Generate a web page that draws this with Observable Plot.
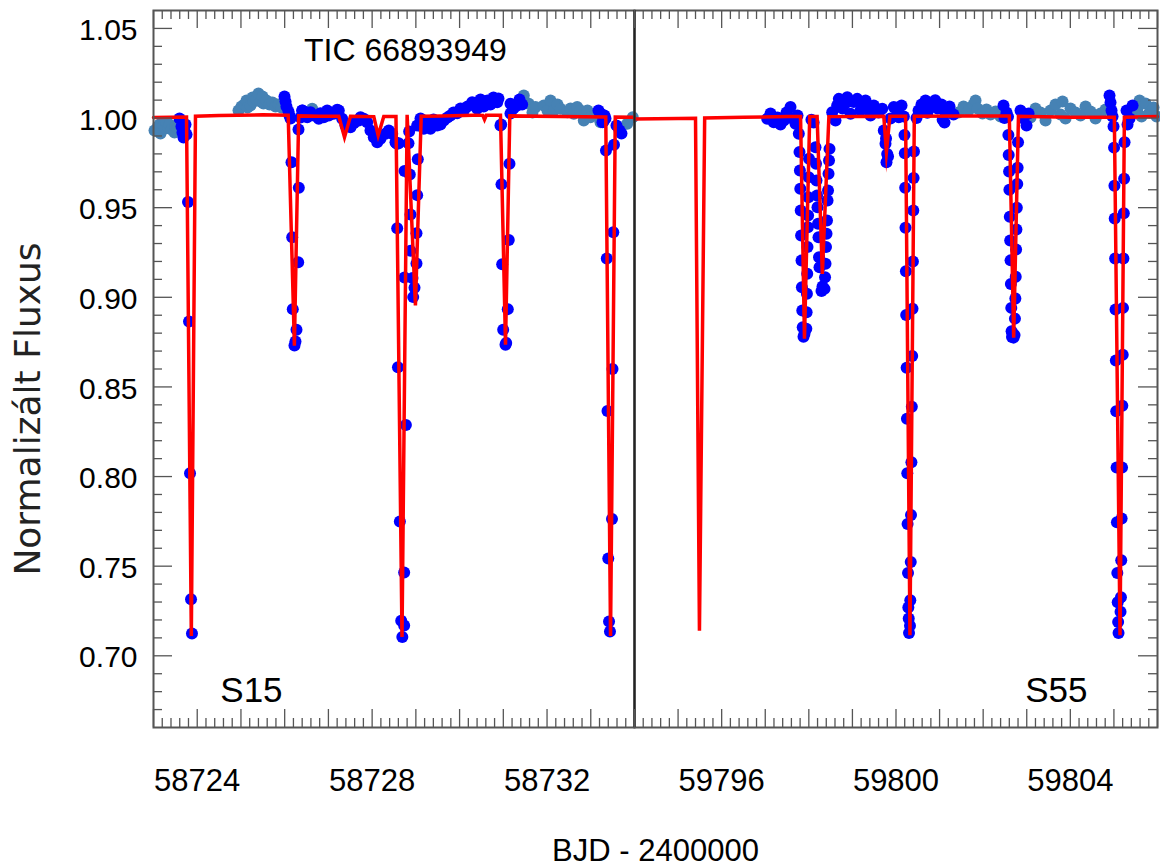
<!DOCTYPE html>
<html>
<head>
<meta charset="utf-8">
<script src="https://cdn.jsdelivr.net/npm/d3@7"></script>
<script src="https://cdn.jsdelivr.net/npm/@observablehq/plot@0.6"></script>
<style>
  html, body { margin: 0; padding: 0; background: #fff; }
  #wrap { position: relative; width: 1160px; height: 866px; }
  #wrap svg { position: absolute; left: 0; top: 0; }
</style>
</head>
<body>
<div id="wrap"></div>
<script>
// ---------------- DATA ----------------
// Sector 15 – points not used in fit (steel blue)
const s15SteelT = [58723.023,58723.091,58723.137,58723.160,58723.229,58723.274,58723.297,58723.343,58723.366,58723.412,58723.480,58723.503,58723.549,
  58724.944,58725.012,58725.081,58725.127,58725.150,58725.218,58725.264,58725.287,58725.355,58725.401,58725.447,58725.493,58725.515,58725.584,58725.653,58725.721,58725.790,58725.859,58725.927,
  58726.629,
  58731.468,58731.583,58731.667,58731.736,58731.926,58732.010,58732.079,58732.154,58732.239,58732.307,58732.461,58732.536,58732.612,58732.689,58732.765,58732.840,58732.924,58732.993,58733.108,58733.222,58733.833,58733.960];
const s15SteelF = [0.9931,0.9947,0.9964,0.9914,0.9958,0.9942,0.9975,0.9947,0.9964,0.9936,0.9919,0.9953,0.9942,
  1.0042,1.0064,1.0076,1.0098,1.0059,1.0070,1.0115,1.0092,1.0103,1.0137,1.0092,1.0120,1.0081,1.0098,1.0076,1.0087,1.0064,1.0076,1.0059,
  1.0052,
  1.0126,1.0080,1.0031,1.0061,1.0070,1.0042,1.0098,1.0042,1.0076,1.0052,1.0033,1.0053,1.0024,1.0061,1.0042,0.9986,1.0042,1.0005,1.0024,0.9977,0.9968,1.0005];

// Sector 15 – fitted points (blue)
const s15BlueT = [58723.595,58723.640,58723.663,58723.686,58723.709,58723.732,58723.755,
  58723.789,58723.812,58723.835,58723.858,58723.880,
  58725.996,58726.019,58726.041,58726.087,58726.110,58726.133,
  58726.156,58726.172,58726.185,58726.224,58726.247,58726.270,58726.309,58726.323,
  58726.316,58726.362,58726.407,58726.476,
  58726.400,58726.515,58726.590,58726.666,58726.780,58726.819,58726.894,58726.972,58727.009,58727.123,58727.201,58727.237,58727.315,58727.391,58727.505,58727.580,58727.695,58727.734,58727.809,58727.887,58727.962,58728.038,58728.116,58728.191,58728.305,58728.381,58728.459,58728.534,58728.573,
  58728.557,58728.607,58728.573,58728.591,58728.634,58728.665,58728.690,58728.732,58728.732,58728.772,58728.740,58728.740,58728.831,58728.847,58728.861,58728.877,58728.877,58728.923,58728.939,58728.969,58729.014,58729.014,58729.030,58729.044,
  58729.030,58729.106,58729.181,58729.266,58729.334,58729.403,58729.488,58729.563,58729.639,58729.723,58729.792,58729.860,58729.945,58730.020,58730.096,58730.180,58730.288,58730.341,58730.402,58730.478,58730.553,58730.638,58730.707,58730.775,58730.860,58730.889,58730.935,
  58730.951,58730.958,58730.974,58730.997,58731.050,58731.066,58731.102,58731.125,58731.141,
  58731.164,58731.164,58731.232,58731.317,58731.370,58731.431,
  58733.176,58733.222,58733.268,58733.291,58733.313,58733.336,
  58733.348,58733.366,58733.382,58733.400,58733.418,58733.439,58733.485,58733.497,58733.515,58733.531,
  58733.588,58733.657,58733.702];
const s15BlueF = [0.9997,0.9953,0.9919,0.9892,0.9931,0.9964,0.9908,
  0.9532,0.8865,0.8018,0.7315,0.7125,
  1.0120,1.0092,1.0064,1.0036,1.0014,0.9997,
  0.9754,0.9335,0.8934,0.8731,0.8753,0.8819,0.9196,0.9611,
  0.9936,1.0003,1.0042,1.0031,
  1.0042,1.0005,1.0033,1.0014,0.9996,1.0027,1.0005,1.0042,1.0014,1.0024,1.0046,1.0042,0.9996,0.9958,0.9949,0.9971,0.9986,1.0005,0.9996,0.9977,0.9931,0.9893,0.9865,0.9884,0.9912,0.9931,0.9912,0.9865,0.9856,
  0.9860,0.9859,0.9385,0.8610,0.7749,0.7195,0.7105,0.7169,0.7465,0.8287,0.9110,0.9704,0.9860,0.9925,0.9685,0.9462,0.9259,0.9107,0.9001,0.9053,0.9189,0.9358,0.9570,0.9770,
  0.9958,0.9997,0.9940,0.9981,0.9940,0.9992,0.9958,0.9964,0.9986,1.0003,1.0014,1.0031,1.0027,1.0053,1.0042,1.0064,1.0088,1.0076,1.0052,1.0103,1.0064,1.0098,1.0076,1.0115,1.0088,1.0109,0.9958,
  0.9964,0.9630,0.9185,0.8819,0.8735,0.8745,0.8934,0.9320,0.9745,
  1.0080,1.0025,1.0053,1.0070,1.0103,1.0076,
  1.0042,1.0025,0.9977,0.9981,1.0014,0.9997,
  0.9819,0.9217,0.8366,0.7543,0.7191,0.7136,0.7763,0.8600,0.9363,0.9851,
  0.9958,0.9931,0.9914];

// Sector 15 – model (red)
const s15ModelT = [58723.000,58723.400,58723.755,58723.865,58723.960,58724.500,58725.500,58726.080,58726.222,58726.320,58726.800,
  58727.237,58727.368,58727.505,58728.038,58728.138,58728.266,58728.545,58728.683,58728.800,58728.990,58729.122,
  58729.600,58730.300,58730.530,58730.570,58730.610,58730.935,58731.050,58731.148,58732.300,58733.343,58733.452,58733.560,58734.000];
const s15ModelF = [1.0003,1.0005,1.0006,0.7110,1.0010,1.0014,1.0018,1.0016,0.8730,1.0012,1.0010,
  1.0010,0.9893,1.0010,1.0008,0.9903,1.0008,1.0008,0.7105,1.0018,0.8955,1.0010,
  1.0012,1.0016,1.0015,0.9992,1.0015,1.0015,0.8735,1.0012,1.0008,1.0006,0.7110,1.0006,1.0005];

// Sector 55 – points not used in fit (steel blue)
const s55SteelT = [59801.434,59801.549,59801.664,59801.779,59801.825,59801.870,59801.985,59802.077,59802.169,59802.284,59802.398,
  59803.087,59803.201,59803.316,59803.431,59803.545,59803.660,59803.775,59803.821,59803.890,59804.004,59804.119,59804.234,59804.349,59804.463,59804.578,59804.693,59804.808,
  59805.496,59805.542,59805.588,59805.634,59805.726,59805.817,59805.909,59805.978];
const s55SteelF = [1.0031,1.0064,1.0042,1.0076,1.0098,1.0053,1.0025,1.0048,1.0020,1.0037,1.0009,
  1.0003,1.0053,1.0031,0.9986,1.0042,1.0076,1.0020,1.0092,0.9997,1.0053,1.0031,1.0014,1.0064,1.0037,0.9997,1.0025,1.0048,
  1.0031,1.0053,1.0098,1.0009,1.0081,1.0031,1.0059,1.0009];

// Sector 55 – fitted points (blue)
const s55BlueT = [59797.045,59797.121,59797.196,59797.281,59797.350,59797.426,59797.488,59797.580,59797.625,59797.694,59797.740,59797.770,
  59797.786,59797.795,59797.804,59797.814,59797.823,59797.832,59797.841,59797.850,59797.860,
  59797.878,59797.901,
  59797.942,59797.949,59797.956,59797.963,59797.970,59797.977,59797.983,59797.990,59797.997,59798.004,
  59798.060,59798.110,
  59798.153,59798.165,59798.176,59798.188,59798.199,59798.211,59798.222,59798.234,59798.245,
  59798.291,59798.314,
  59798.360,59798.372,59798.383,59798.394,59798.406,59798.417,59798.429,59798.440,59798.452,59798.463,59798.474,
  59798.536,59798.612,59798.650,59798.688,59798.773,59798.830,59798.881,59798.957,59799.030,59799.110,59799.186,59799.250,59799.301,59799.360,59799.415,59799.491,59799.550,59799.599,59799.684,
  59799.720,59799.759,59799.771,59799.782,59799.798,59799.817,
  59799.874,59799.950,59800.012,59800.065,59800.127,59800.180,
  59800.195,59800.203,59800.211,59800.218,59800.227,59800.234,59800.244,59800.251,59800.259,59800.266,59800.276,59800.283,59800.292,59800.299,
  59800.321,59800.328,59800.338,59800.344,59800.354,59800.363,59800.372,59800.379,59800.388,59800.397,59800.404,59800.413,
  59800.470,59800.517,59800.585,59800.677,59800.720,59800.769,59800.861,59800.900,59800.953,59801.044,59801.070,59801.113,59801.136,59801.228,59801.320,
  59802.467,59802.490,59802.536,
  59802.570,59802.579,59802.586,59802.595,59802.602,59802.611,59802.620,59802.628,59802.636,59802.645,59802.652,59802.661,
  59802.697,
  59802.720,59802.729,59802.738,59802.747,59802.756,59802.763,59802.772,59802.782,59802.791,59802.800,
  59802.857,59802.926,59802.995,59803.041,
  59804.899,59804.922,59804.945,59804.968,59804.991,
  59805.003,59805.012,59805.019,59805.028,59805.037,59805.044,59805.053,59805.062,59805.069,59805.078,59805.087,59805.097,59805.106,
  59805.152,59805.161,59805.168,59805.177,59805.186,59805.193,59805.202,59805.209,59805.218,59805.227,59805.234,59805.244,
  59805.290,59805.313,59805.359,59805.428];
const s55BlueF = [0.9996,1.0025,0.9977,1.0003,0.9964,0.9986,1.0031,1.0061,0.9997,0.9968,1.0014,0.9912,
  0.9810,0.9707,0.9605,0.9484,0.9345,0.9205,0.9056,0.8926,0.8833,
  0.8780,0.8796,
  0.8824,0.8917,0.9020,0.9131,0.9280,0.9391,0.9456,0.9558,0.9670,0.9773,
  0.9990,0.9975,
  0.9837,0.9745,0.9652,0.9568,0.9503,0.9410,0.9335,0.9224,0.9168,
  0.9035,0.9060,
  0.9047,0.9112,0.9187,0.9280,0.9354,0.9428,0.9540,0.9596,0.9689,0.9763,0.9828,
  1.0033,0.9986,1.0070,1.0107,1.0053,1.0080,1.0116,1.0024,1.0090,1.0107,1.0042,1.0060,1.0098,1.0050,1.0014,1.0070,1.0045,1.0031,1.0052,
  0.9931,0.9856,0.9886,0.9754,0.9800,0.9786,
  0.9997,1.0061,1.0048,1.0005,1.0070,1.0009,
  0.9905,0.9804,0.9611,0.9388,0.9145,0.8901,0.8607,0.8323,0.8019,0.7735,0.7462,0.7269,0.7208,0.7127,
  0.7167,0.7310,0.7523,0.7786,0.8080,0.8389,0.8673,0.8936,0.9200,0.9484,0.9666,0.9814,
  1.0000,1.0042,1.0076,1.0098,1.0030,1.0064,1.0087,1.0100,1.0053,1.0076,0.9990,0.9975,1.0031,1.0064,1.0020,
  1.0070,1.0000,1.0031,
  1.0007,0.9905,0.9794,0.9702,0.9600,0.9449,0.9317,0.9206,0.9074,0.8941,0.8810,0.8779,
  0.8775,
  0.8789,0.8881,0.8993,0.9114,0.9267,0.9378,0.9500,0.9632,0.9723,0.9865,
  1.0042,0.9997,0.9958,1.0025,
  1.0126,1.0087,1.0042,1.0009,0.9953,
  0.9835,0.9622,0.9439,0.9216,0.8932,0.8648,0.8364,0.8050,0.7745,0.7462,0.7299,0.7188,0.7127,
  0.7246,0.7327,0.7533,0.7766,0.8050,0.8395,0.8679,0.8941,0.9216,0.9469,0.9662,0.9865,
  1.0042,0.9964,0.9997,1.0070];

// Sector 55 – model (red)
const s55ModelT = [59794.000,59795.000,59795.400,59795.490,59795.610,59796.500,59797.500,59797.810,59797.900,59798.020,59798.190,59798.310,59798.460,
  59799.720,59799.780,59799.860,59800.220,59800.320,59800.420,59801.500,59802.600,59802.700,59802.810,59804.000,59805.010,59805.140,59805.240,59806.000];
const s55ModelF = [0.9995,0.9998,0.9999,0.7140,1.0000,1.0004,1.0008,1.0008,0.8769,1.0008,1.0008,0.9131,1.0008,
  1.0010,0.9810,1.0010,1.0010,0.7115,1.0010,1.0012,1.0012,0.8775,1.0010,1.0005,1.0004,0.7115,1.0004,1.0008];

// Axes
const s15Domain = [58723, 58734];
const s55Domain = [59794, 59806];
const fluxDomain = [0.66, 1.06];
const s15TickLabels = [58724, 58728, 58732];
const s55TickLabels = [59796, 59800, 59804];
const fluxTickLabels = [0.70, 0.75, 0.80, 0.85, 0.90, 0.95, 1.00, 1.05];
const titleText = "TIC 66893949";
const xTitle = "BJD - 2400000";
const yTitle = "Normalizált Fluxus";

// ---------------- DRAWING ----------------
const zip = (T, F) => T.map((t, i) => ({t, f: F[i]}));
const W = 1160, H = 866, TOP = 10, BOTTOM = 727, LEFT = 153, MID = 634, RIGHT = 1157;
const FH = BOTTOM - TOP;
const FONT = "'Liberation Sans', Arial, Helvetica, sans-serif";
const AXIS = "#555";

const yMajor = d3.range(0.70, 1.0501, 0.05).map(v => +v.toFixed(2));
const yMinor = d3.range(0.67, 1.0551, 0.01).map(v => +v.toFixed(2)).filter(v => !yMajor.some(m => Math.abs(m - v) < 1e-6));

function xTicks(domain) {
  const major = d3.range(domain[0], domain[1] + 0.001, 1);
  const minor = d3.range(domain[0], domain[1] + 0.001, 0.2).map(v => +v.toFixed(1)).filter(v => Math.abs(v - Math.round(v)) > 1e-6);
  const o = {x: d => d, stroke: AXIS, strokeWidth: 1.3};
  return [
    Plot.tickX(minor, {...o, insetTop: FH - 9}),
    Plot.tickX(minor, {...o, insetBottom: FH - 9}),
    Plot.tickX(major, {...o, insetTop: FH - 18}),
    Plot.tickX(major, {...o, insetBottom: FH - 18})
  ];
}
function yTicks(side, fw) {
  const o = {y: d => d, stroke: AXIS, strokeWidth: 1.3};
  const key = side === "left" ? "insetRight" : "insetLeft";
  return [
    Plot.tickY(yMinor, {...o, [key]: fw - 9}),
    Plot.tickY(yMajor, {...o, [key]: fw - 19})
  ];
}
function dataMarks(steel, blue, model) {
  return [
    Plot.dot(steel, {x: "t", y: "f", r: 6, fill: "#4682B4", stroke: "none"}),
    Plot.dot(blue, {x: "t", y: "f", r: 6, fill: "#0000FF", stroke: "none"}),
    Plot.line(model, {x: "t", y: "f", stroke: "#FF0000", strokeWidth: 3.5, strokeLinejoin: "miter", strokeMiterlimit: 20})
  ];
}

const common = {
  width: W, height: H, marginTop: TOP, marginBottom: H - BOTTOM,
  y: {domain: fluxDomain, axis: null},
  style: {background: "transparent", fontFamily: FONT, overflow: "visible"}
};

const left = Plot.plot({
  ...common,
  marginLeft: LEFT, marginRight: W - MID,
  x: {domain: s15Domain, axis: null},
  marks: [
    ...dataMarks(zip(s15SteelT, s15SteelF), zip(s15BlueT, s15BlueF), zip(s15ModelT, s15ModelF)),
    Plot.frame({stroke: AXIS, strokeWidth: 2}),
    ...xTicks(s15Domain),
    ...yTicks("left", MID - LEFT),
    Plot.text(s15TickLabels, {x: d => d, text: d => String(d), frameAnchor: "bottom", dy: 63, fontSize: 31, fill: "#000"}),
    Plot.text(fluxTickLabels, {y: d => d, text: d => d.toFixed(2), frameAnchor: "left", textAnchor: "end", dx: -16, dy: 2, fontSize: 30, fill: "#000"}),
    Plot.text([titleText], {x: [58728.76], y: [1.0377], text: d => d, fontSize: 32, fill: "#000"}),
    Plot.text(["S15"], {x: [58725.24], y: [0.6807], text: d => d, fontSize: 35, fill: "#000"}),
    Plot.text([yTitle], {frameAnchor: "left", textAnchor: "middle", dx: -125, dy: 40, rotate: -90, text: d => d, fontSize: 36, fill: "#222", fontFamily: "'DejaVu Sans', sans-serif"})
  ]
});

const right = Plot.plot({
  ...common,
  marginLeft: MID, marginRight: W - RIGHT,
  x: {domain: s55Domain, axis: null},
  marks: [
    ...dataMarks(zip(s55SteelT, s55SteelF), zip(s55BlueT, s55BlueF), zip(s55ModelT, s55ModelF)),
    Plot.frame({stroke: AXIS, strokeWidth: 2}),
    Plot.ruleX([s55Domain[0]], {stroke: "#222", strokeWidth: 2}),
    ...xTicks(s55Domain),
    ...yTicks("right", RIGHT - MID),
    Plot.text(s55TickLabels, {x: d => d, text: d => String(d), frameAnchor: "bottom", dy: 63, fontSize: 31, fill: "#000"}),
    Plot.text(["S55"], {x: [59803.68], y: [0.6807], text: d => d, fontSize: 35, fill: "#000"}),
    Plot.text([xTitle], {frameAnchor: "bottom-left", dx: 21, dy: 133, textAnchor: "middle", text: d => d, fontSize: 31, fill: "#000"})
  ]
});

const wrap = document.getElementById("wrap");
wrap.appendChild(left);
wrap.appendChild(right);
</script>
</body>
</html>
